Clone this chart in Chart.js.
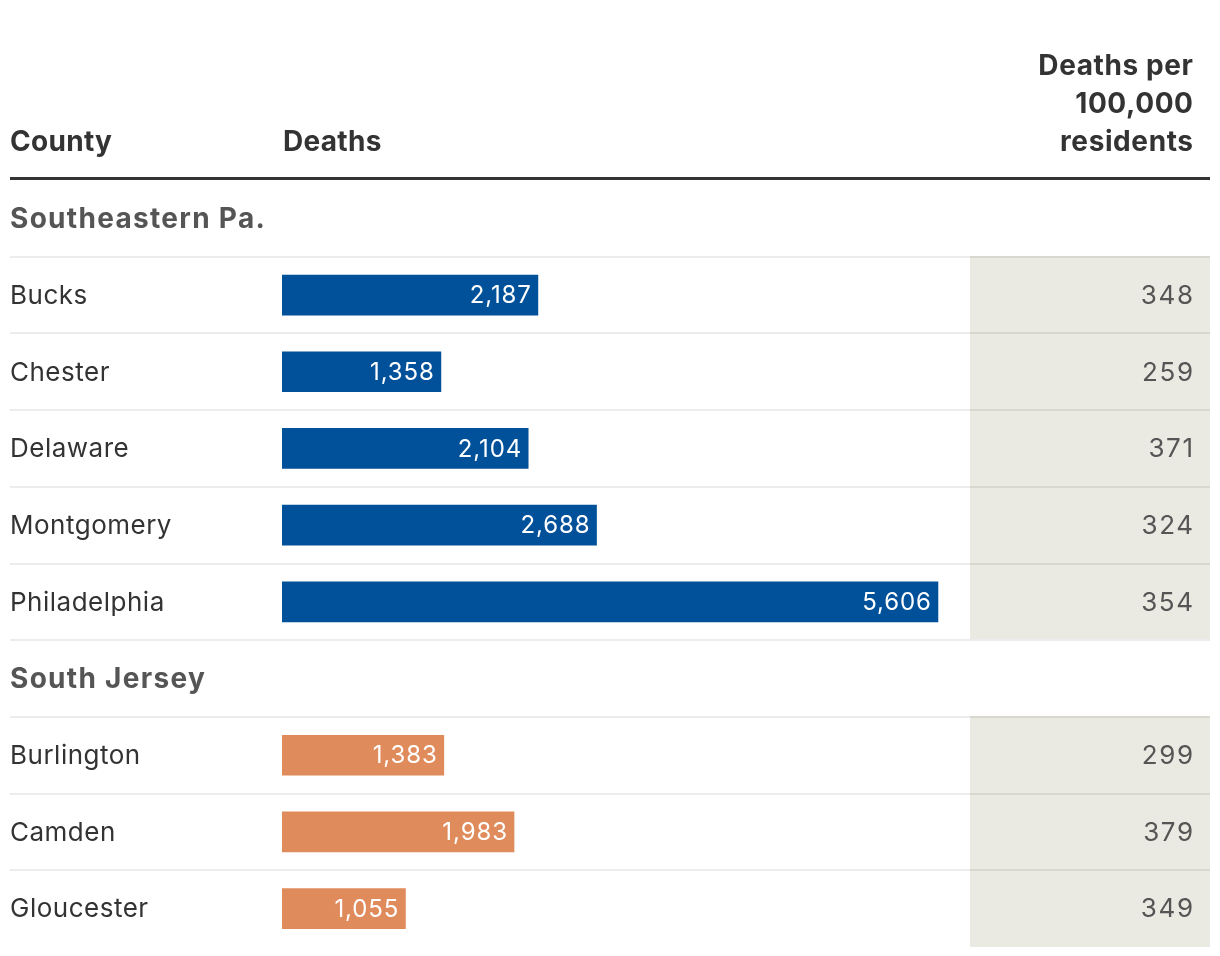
<!DOCTYPE html>
<html>
<head>
<meta charset="utf-8">
<script src="https://cdn.jsdelivr.net/npm/chart.js@4.4.1/dist/chart.umd.min.js"></script>
<style>
  html, body { margin: 0; padding: 0; background: #ffffff; }
  #wrap { width: 1220px; height: 956px; position: relative; }
</style>
</head>
<body>
<div id="wrap"><canvas id="c" width="1220" height="956"></canvas></div>
<script>
// ---- Data ----
const groupNames = ["Southeastern Pa.", "South Jersey"];
const paCounties = ["Bucks", "Chester", "Delaware", "Montgomery", "Philadelphia"];
const paDeaths   = [2187, 1358, 2104, 2688, 5606];
const paRates    = [348, 259, 371, 324, 354];
const njCounties = ["Burlington", "Camden", "Gloucester"];
const njDeaths   = [1383, 1983, 1055];
const njRates    = [299, 379, 349];
const headerCounty = "County";
const headerDeaths = "Deaths";
const headerRate = ["Deaths per", "100,000", "residents"];

// ---- Build rows (group header rows have no bar) ----
const groups = [
  { name: groupNames[0], counties: paCounties, deaths: paDeaths, rates: paRates, color: "#00509a" },
  { name: groupNames[1], counties: njCounties, deaths: njDeaths, rates: njRates, color: "#e08b5b" }
];
const labels = [], values = [], rates = [], isHeader = [], colors = [];
groups.forEach(g => {
  labels.push(g.name); values.push(null); rates.push(null); isHeader.push(true); colors.push(g.color);
  g.counties.forEach((c, i) => {
    labels.push(c); values.push(g.deaths[i]); rates.push(g.rates[i]); isHeader.push(false); colors.push(g.color);
  });
});

const FONT = "Inter, 'Noto Sans', 'DejaVu Sans', sans-serif";
const LEFT = 10, RIGHT = 1210, SHADE_L = 970, NUM_R = 1193;

function setLS(ctx, v) { if ('letterSpacing' in ctx) ctx.letterSpacing = v + "px"; }
function textRight(ctx, t, x, y, ls) {
  // compensate trailing letter spacing on right-aligned text
  ctx.fillText(t, x + ls, y);
}

const tablePlugin = {
  id: 'tablePlugin',
  beforeDatasetsDraw(chart) {
    const ctx = chart.ctx, ca = chart.chartArea, ys = chart.scales.y;
    const rowH = (ca.bottom - ca.top) / labels.length;
    ctx.save();
    // shaded column per group
    let i = 0;
    groups.forEach(g => {
      const first = i + 1, last = i + g.counties.length;
      const top = ys.getPixelForValue(first) - rowH / 2;
      const bot = ys.getPixelForValue(last) + rowH / 2;
      ctx.fillStyle = "#ebeae2";
      ctx.fillRect(SHADE_L, top, RIGHT - SHADE_L, bot - top);
      i = last + 1;
    });
    // row separators
    for (let r = 1; r < labels.length; r++) {
      const y = Math.round(ys.getPixelForValue(r) - rowH / 2);
      ctx.fillStyle = "#ececec";
      ctx.fillRect(LEFT, y - 1, SHADE_L - LEFT, 2);
      ctx.fillStyle = isHeader[r] ? "#ececec" : "#d9d8cf";
      ctx.fillRect(SHADE_L, y - 1, RIGHT - SHADE_L, 2);
    }
    // thick header rule
    ctx.fillStyle = "#333333";
    ctx.fillRect(LEFT, ca.top - 3, RIGHT - LEFT, 3);
    // header texts
    ctx.fillStyle = "#333333";
    ctx.font = "bold 28px " + FONT;
    ctx.textBaseline = "middle";
    ctx.textAlign = "left";
    setLS(ctx, 0.3);
    ctx.fillText(headerCounty, LEFT, 143);
    ctx.fillText(headerDeaths, ca.left + 1, 143);
    ctx.textAlign = "right";
    setLS(ctx, 0.6);
    headerRate.forEach((t, k) => textRight(ctx, t, NUM_R, 67 + k * 38, 0.6));
    // row texts
    labels.forEach((lab, r) => {
      const y = ys.getPixelForValue(r);
      if (isHeader[r]) {
        ctx.fillStyle = "#555555";
        ctx.font = "bold 28px " + FONT;
        ctx.textAlign = "left";
        setLS(ctx, 1.3);
        ctx.fillText(lab, LEFT, y + 1);
      } else {
        ctx.fillStyle = "#333333";
        ctx.font = "26px " + FONT;
        ctx.textAlign = "left";
        setLS(ctx, 0.5);
        ctx.fillText(lab, LEFT, y + 1);
        ctx.fillStyle = "#555555";
        ctx.font = "26px " + FONT;
        ctx.textAlign = "right";
        setLS(ctx, 1.6);
        textRight(ctx, String(rates[r]), NUM_R, y + 1, 1.6);
      }
    });
    ctx.restore();
  },
  afterDatasetsDraw(chart) {
    const ctx = chart.ctx;
    const meta = chart.getDatasetMeta(0);
    ctx.save();
    ctx.fillStyle = "#ffffff";
    ctx.font = "24px " + FONT;
    ctx.textAlign = "right";
    ctx.textBaseline = "middle";
    setLS(ctx, 0.9);
    meta.data.forEach((bar, r) => {
      if (values[r] == null) return;
      textRight(ctx, values[r].toLocaleString('en-US'), bar.x - 7, bar.y + 1, 0.9);
    });
    ctx.restore();
  }
};

new Chart(document.getElementById('c'), {
  type: 'bar',
  data: {
    labels: labels,
    datasets: [{
      data: values,
      backgroundColor: colors,
      borderWidth: 0,
      barThickness: 40
    }]
  },
  options: {
    indexAxis: 'y',
    responsive: false,
    animation: false,
    maintainAspectRatio: false,
    layout: { padding: { left: 282, top: 180, right: 250, bottom: 9 } },
    scales: {
      x: { display: false, min: 0, max: 5880 },
      y: { display: false }
    },
    plugins: { legend: { display: false }, tooltip: { enabled: false } }
  },
  plugins: [tablePlugin]
});
</script>
</body>
</html>
